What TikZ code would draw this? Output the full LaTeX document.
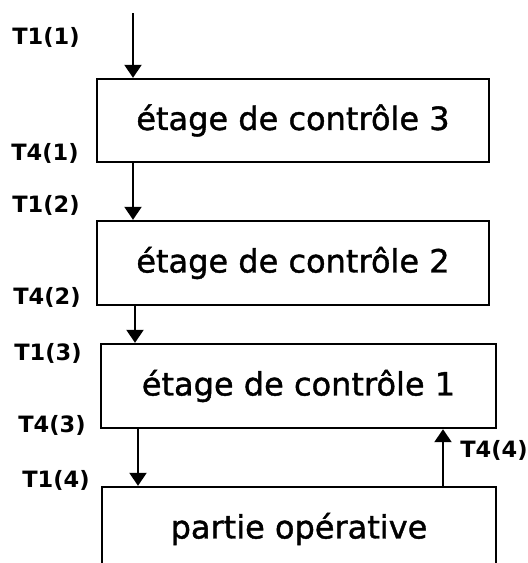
\documentclass[tikz,border=0pt]{standalone}
\usepackage{fontspec}
\setmainfont{DejaVu Sans}
\newfontfamily\boxfont[FakeBold=1.2]{DejaVu Sans}
\usetikzlibrary{arrows.meta}
\tikzset{>={Triangle[width=17pt,length=13pt]},
etage/.style={rectangle,draw,line width=2.4pt,inner sep=0pt,
  font=\boxfont\fontsize{32}{32}\selectfont},
sig/.style={font=\fontsize{22.5}{22.5}\selectfont\bfseries,inner sep=0pt},
fl/.style={->,line width=2.2pt},
}
\begin{document}
\begin{tikzpicture}[x=1pt,y=-1pt]
	\useasboundingbox (0,0) rectangle (528,563);
	\clip (0,0) rectangle (528,563);

	\node[etage,minimum width=392pt,minimum height=83pt] (e3) at (293,120.5) {étage de contrôle 3};
	\node[etage,minimum width=392pt,minimum height=84pt] (e2) at (293,263) {étage de contrôle 2};
	\node[etage,minimum width=395pt,minimum height=84pt] (e1) at (298.5,386) {étage de contrôle 1};
	\node[etage,minimum width=394pt,minimum height=120pt] (po) at (299,547) {};
	\node[font=\boxfont\fontsize{32}{32}\selectfont] (pot) at (299,529) {partie opérative};

	\coordinate (in) at (133,13);
	\coordinate (c2) at (135,0);
	\coordinate (c3) at (138,0);
	\coordinate (c4) at (443,0);

	\draw[fl] (in) -- (in |- e3.north);
	\draw[fl] (in |- e3.south) -- (in |- e2.north);
	\draw[fl] (c2 |- e2.south) -- (c2 |- e1.north);
	\draw[fl] (c3 |- e1.south) -- (c3 |- po.north);
	\draw[fl] (c4 |- po.north) -- (c4 |- e1.south);

	\node[sig] (t11) at (46,37) {T1(1)};
	\node[sig] (t41) at (45,153) {T4(1)};
	\node[sig] (t12) at (46,205) {T1(2)};
	\node[sig] (t42) at (47,297) {T4(2)};
	\node[sig] (t13) at (48,353) {T1(3)};
	\node[sig] (t43) at (52,425) {T4(3)};
	\node[sig] (t14) at (56,480) {T1(4)};
	\node[sig] (t44) at (494,450) {T4(4)};
\end{tikzpicture}
\end{document}
